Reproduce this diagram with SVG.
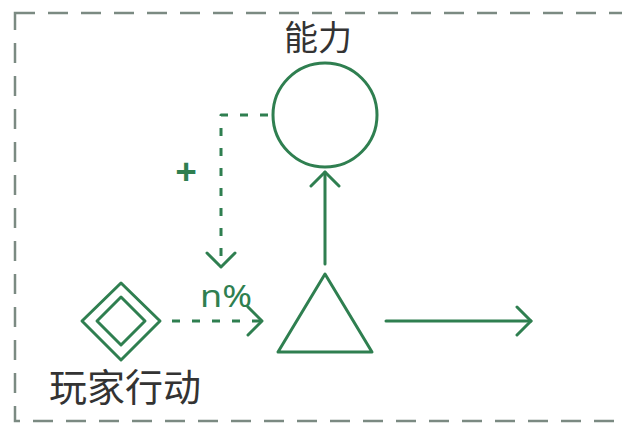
<svg xmlns="http://www.w3.org/2000/svg" width="622" height="423" viewBox="0 0 622 423">
<defs>
<style>
.ln{fill:none;stroke:#2f7f50;stroke-width:3;stroke-linecap:round;stroke-linejoin:round}
.dash{stroke-dasharray:8 12;stroke-linecap:butt}
.lbl{font-family:"Noto Sans CJK SC","Noto Sans",sans-serif;fill:#333}
.g{font-family:"Noto Sans","DejaVu Sans",sans-serif;fill:#2f7f50}
</style>
<marker id="chev" viewBox="0 0 20 32" refX="17" refY="16" markerWidth="20" markerHeight="32" markerUnits="userSpaceOnUse" orient="auto">
<path d="M3 2 L17 16 L3 30" fill="none" stroke="#2f7f50" stroke-width="3" stroke-linecap="round" stroke-linejoin="round"/>
</marker>
</defs>
<rect width="622" height="423" fill="#ffffff"/>
<rect x="15" y="13" width="640" height="408" fill="none" stroke="#7b8a82" stroke-width="2.5" stroke-dasharray="20 13"/>
<g id="ability">
<circle class="ln" cx="325" cy="115" r="52"/>
<text class="lbl" x="318" y="50" font-size="34" text-anchor="middle">能力</text>
</g>
<g id="player-action">
<path class="ln" d="M121 283 L160 321 L121 360 L82 321 Z"/>
<path class="ln" d="M121 297 L145 321 L121 345 L97 321 Z"/>
<text class="lbl" x="125" y="401" font-size="38" text-anchor="middle">玩家行动</text>
</g>
<g id="converter">
<path class="ln" d="M325 274 L372 352 L278 352 Z"/>
</g>
<g id="connectors">
<path class="ln dash" d="M268 115 L221 115 L221 267" marker-end="url(#chev)"/>
<text class="g" x="186" y="185" font-size="38" font-weight="bold" text-anchor="middle">+</text>
<path class="ln dash" d="M172 321 L262 321" marker-end="url(#chev)"/>
<text class="g" x="200" y="307" font-size="30" textLength="52" lengthAdjust="spacingAndGlyphs">n%</text>
<path class="ln" d="M325 264 L325 172" marker-end="url(#chev)"/>
<path class="ln" d="M386 321 L531 321" marker-end="url(#chev)"/>
</g>
</svg>
